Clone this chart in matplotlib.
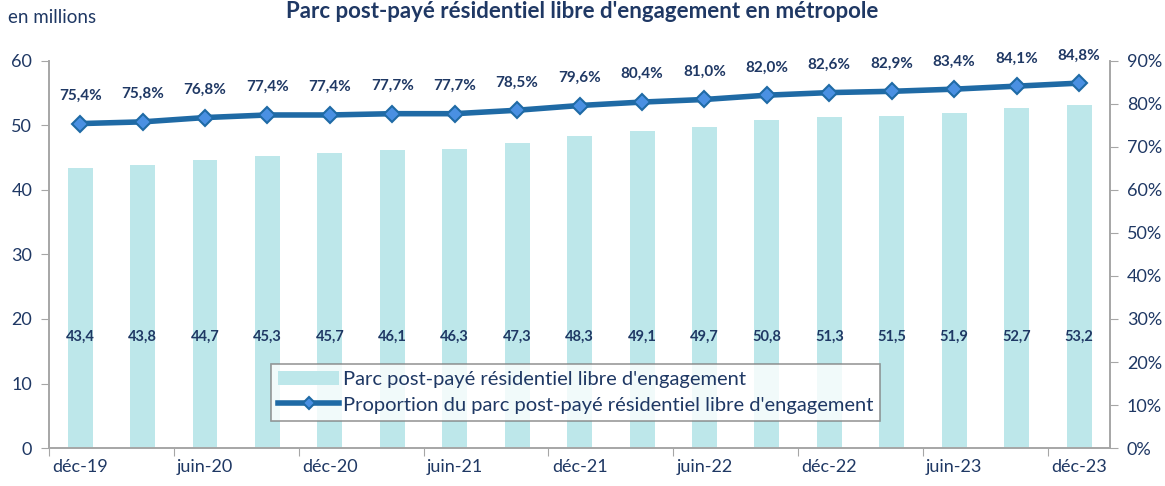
import numpy as np
import matplotlib.pyplot as plt
from matplotlib.ticker import FixedLocator, FuncFormatter

plt.rcParams['font.family'] = ['Lato', 'DejaVu Sans']

quarters = ['déc-19', 'mars-20', 'juin-20', 'sept-20', 'déc-20', 'mars-21', 'juin-21', 'sept-21',
            'déc-21', 'mars-22', 'juin-22', 'sept-22', 'déc-22', 'mars-23', 'juin-23', 'sept-23', 'déc-23']
parc = [43.4, 43.8, 44.7, 45.3, 45.7, 46.1, 46.3, 47.3, 48.3, 49.1, 49.7, 50.8, 51.3, 51.5, 51.9, 52.7, 53.2]
part = [75.4, 75.8, 76.8, 77.4, 77.4, 77.7, 77.7, 78.5, 79.6, 80.4, 81.0, 82.0, 82.6, 82.9, 83.4, 84.1, 84.8]

navy = '#1F3864'
bar_col = '#BDE7EA'
line_col = '#1F6AA5'
grey = '#A6A6A6'

fig = plt.figure(figsize=(11.65, 4.86), dpi=100)
ax = fig.add_axes([0.042, 0.078, 0.911, 0.797])
ax2 = ax.twinx()

x = np.arange(len(quarters))
bars = ax.bar(x, parc, width=0.4, color=bar_col, zorder=2,
              label="Parc post-payé résidentiel libre d'engagement")
for xi, v in zip(x, parc):
    ax.text(xi, 17.3, f'{v:.1f}'.replace('.', ','), ha='center', va='center',
            fontsize=10.5, fontweight='bold', color=navy)

line, = ax2.plot(x, part, color=line_col, lw=4, marker='D', markersize=8,
                 markerfacecolor='#4A90E2', markeredgecolor=line_col, markeredgewidth=1.5,
                 label="Proportion du parc post-payé résidentiel libre d'engagement", zorder=3)
for xi, v in zip(x, part):
    ax2.annotate(f'{v:.1f}%'.replace('.', ','), (xi, v), xytext=(0, 20), textcoords='offset points',
                 ha='center', va='center', fontsize=11, fontweight='bold', color=navy)

ax.set_xlim(-0.5, len(quarters) - 0.5)
ax.set_ylim(0, 60)
ax.set_yticks(np.arange(0, 61, 10))
ax2.set_ylim(0, 90)
ax2.set_yticks(np.arange(0, 91, 10))
ax2.yaxis.set_major_formatter(FuncFormatter(lambda v, p: f'{v:.0f}%'))

# tick marks between pairs of categories, labels on every other category
ax.xaxis.set_major_locator(FixedLocator(np.arange(-0.5, len(quarters), 2)))
ax.xaxis.set_major_formatter(FuncFormatter(lambda v, p: ''))
ax.xaxis.set_minor_locator(FixedLocator(x[::2]))
ax.set_xticklabels(quarters[::2], minor=True)
ax.tick_params(axis='x', which='minor', length=0, pad=8, labelsize=13, labelcolor=navy)
ax.tick_params(axis='x', which='major', length=6, color=grey)
ax.tick_params(axis='y', length=6, color=grey, labelsize=13, labelcolor=navy, pad=6)
ax2.tick_params(axis='y', length=6, color=grey, labelsize=13, labelcolor=navy, pad=6)

for a in (ax, ax2):
    a.spines['top'].set_visible(False)
    for s in ('left', 'right', 'bottom'):
        a.spines[s].set_color(grey)
        a.spines[s].set_linewidth(1.2)

fig.text(0.007, 0.963, 'en millions', fontsize=13.5, color=navy, ha='left', va='center')
fig.text(0.5, 0.998, "Parc post-payé résidentiel libre d'engagement en métropole", fontsize=16,
         fontweight='bold', color=navy, ha='center', va='top')

leg = ax2.legend([bars, line], [bars.get_label(), line.get_label()], loc='lower left',
                 bbox_to_anchor=(0.2, 0.045), fontsize=14.5, frameon=True, fancybox=False,
                 edgecolor='#808080', labelcolor=navy, handlelength=3.0, handletextpad=0.2,
                 borderpad=0.35, labelspacing=0.4, markerscale=0.75)
leg.get_frame().set_linewidth(1.2)
leg.set_zorder(10)

fig.savefig('out.png', dpi=100)
